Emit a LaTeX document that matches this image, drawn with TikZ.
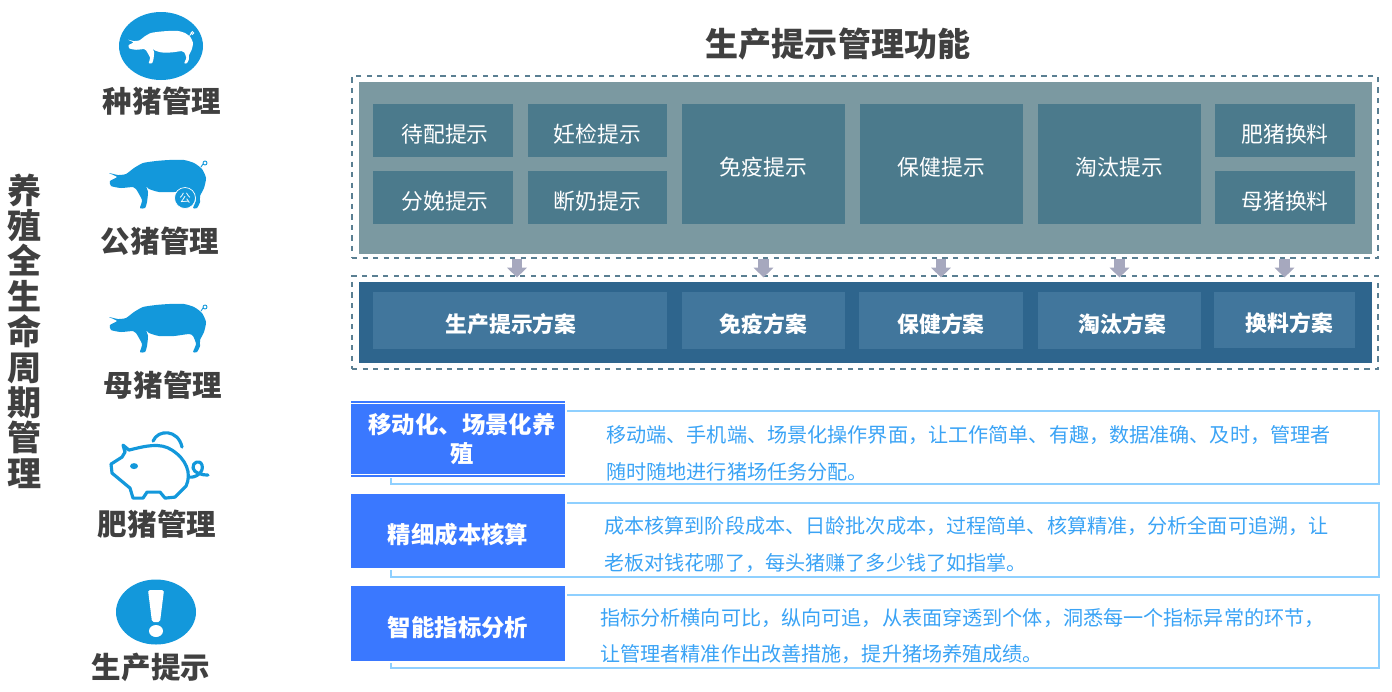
\documentclass[tikz,border=0pt]{standalone}
\usepackage{fontspec}
\setmainfont{Noto Sans CJK SC}
\usetikzlibrary{arrows.meta}

\newcommand{\zhcomma}{\char"FF0C\relax}

\definecolor{iconblue}{HTML}{1398DB}
\definecolor{labelgray}{HTML}{404040}
\definecolor{fnback}{HTML}{7B99A1}
\definecolor{fncell}{HTML}{4B7A8C}
\definecolor{solback}{HTML}{2E658D}
\definecolor{solcell}{HTML}{41769C}
\definecolor{dashline}{HTML}{5A7F92}
\definecolor{arrowgray}{HTML}{A6A8BE}
\definecolor{headblue}{HTML}{3A78FF}
\definecolor{rowline}{HTML}{8FD0FF}
\definecolor{rowtext}{HTML}{3AA3F5}

\tikzset{
	outerbox/.style={draw=dashline, dashed, line width=0.7pt, inner sep=0pt},
	fncellbox/.style={fill=fncell, text=white, inner sep=0pt,
					  text height=15pt, text depth=1.5pt,
					  font=\fontsize{12.4pt}{15pt}\selectfont},
	solcellbox/.style={fill=solcell, text=white, inner sep=0pt,
					   text height=15pt, text depth=1.5pt,
					   font=\fontsize{12.4pt}{15pt}\selectfont\bfseries},
	headbox/.style={fill=headblue, draw=white, line width=1pt, text=white,
					inner sep=0pt, align=center,
					font=\fontsize{13.3pt}{16.5pt}\selectfont\bfseries},
	headlow/.style={text height=16pt, text depth=1.5pt},
	rowbox/.style={draw=rowline, line width=0.6pt, inner sep=0pt},
	rowtextnode/.style={anchor=west, text=rowtext, inner sep=0pt, align=left,
						font=\fontsize{11.45pt}{20.9pt}\selectfont},
	iconlabel/.style={text=labelgray, inner sep=0pt,
					  font=\fontsize{16.8pt}{20pt}\selectfont\bfseries},
	flowarrow/.style={draw=arrowgray, line width=6.2pt,
					  -{Triangle[length=5.5pt,width=11pt]}},
	pics/pigbody/.style={code={
		\begin{scope}[x=0.02cm, y=-0.02cm]
			\fill[#1] plot[smooth cycle, tension=0.35] coordinates {
				(0,13) (9,15) (17,14) (25,8) (34,3) (47,1) (60,0) (75,0) (85,3)
				(93,9) (97,18) (95,28) (91,36) (91,42) (88,48) (84,48) (87,40)
				(84,32) (80,30) (65,32) (50,32) (40,29) (37,26) (39,32) (38,42)
				(36,48) (31,48) (33,40) (27,29) (24,27) (12,28) (2,26) (1,21) (8,17)};
			\draw[#1, line width=0.5pt] (92,7) -- (94,4) (96,3) circle (2);
		\end{scope}
	}}
}

\begin{document}
\begin{tikzpicture}
	\useasboundingbox (0,0) rectangle (27.84,-13.82);

	% left column
	\draw (0.5,-6.62) node[text=labelgray, inner sep=0pt, align=center,
						   font=\fontsize{19.4pt}{20.15pt}\selectfont\bfseries](lifecycle)
		{养\\殖\\全\\生\\命\\周\\期\\管\\理};

	\fill[iconblue] (3.22,-0.92) ellipse (0.84 and 0.68);
	\pic[scale=0.67] at (2.56,-0.62) {pigbody={white}};
	\draw (3.24,-2.02) node[iconlabel](breedlabel){种猪管理};

	\pic at (2.18,-3.2) {pigbody={iconblue}};
	\fill[iconblue, draw=white, line width=0.4pt] (3.70,-3.96) circle (0.21);
	\draw (3.70,-3.96) node[text=white, inner sep=0pt,
							font=\fontsize{6.5pt}{7pt}\selectfont](boarmark){公};
	\draw (3.20,-4.82) node[iconlabel](boarlabel){公猪管理};

	\pic at (2.18,-6.08) {pigbody={iconblue}};
	\draw (3.26,-7.70) node[iconlabel](sowlabel){母猪管理};

	\begin{scope}[x=0.02cm, y=-0.02cm, draw=iconblue, line width=1.8pt,
				  line join=round, line cap=round]
		\draw (123,445) -- (129,450) .. controls (145,446) and (160,442) .. (172,450)
			.. controls (186,459) and (192,473) .. (186,486) -- (175,497) -- (165,498)
			-- (160,492) -- (147,492) -- (143,498) -- (133,498) -- (130,488)
			-- (112,473) -- (111,464) -- (122,457) -- (125,452) -- cycle;
		\draw (153,441) .. controls (158,429) and (178,429) .. (182,447);
		\draw (189,477) .. controls (196,478) and (204,472) .. (202,465)
			.. controls (200,459) and (192,462) .. (193,468)
			.. controls (194,473) and (202,475) .. (208,475);
		\fill[iconblue] (134,466) ellipse (4 and 3);
	\end{scope}
	\draw (3.14,-10.48) node[iconlabel](fatlabel){肥猪管理};

	\fill[iconblue] (3.12,-12.24) ellipse (0.80 and 0.65);
	\fill[white, rounded corners=1pt] (2.96,-11.80) -- (3.28,-11.80) -- (3.20,-12.44)
		-- (3.04,-12.44) -- cycle;
	\fill[white] (3.12,-12.62) ellipse (0.14 and 0.12);
	\draw (3.02,-13.34) node[iconlabel](hintlabel){生产提示};

	% title
	\draw (16.76,-0.88) node[text=labelgray, inner sep=0pt,
							 font=\fontsize{18.8pt}{22pt}\selectfont\bfseries](title){生产提示管理功能};

	% function block
	\draw (17.30,-3.34) node[outerbox, minimum width=20.52cm, minimum height=3.64cm](outerfn){};
	\draw (17.31,-3.36) node[fill=fnback, inner sep=0pt, minimum width=20.26cm, minimum height=3.44cm](innerfn){};
	\draw (8.86,-2.61) node[fncellbox, minimum width=2.8cm, minimum height=1.06cm](daipei){\hspace*{0.08cm}待配提示};
	\draw (11.95,-2.61) node[fncellbox, minimum width=2.78cm, minimum height=1.06cm](renjian){妊检提示};
	\draw (8.86,-3.95) node[fncellbox, minimum width=2.8cm, minimum height=1.06cm](fenmian){\hspace*{0.08cm}分娩提示};
	\draw (11.95,-3.95) node[fncellbox, minimum width=2.78cm, minimum height=1.06cm](duannai){断奶提示};
	\draw (15.27,-3.28) node[fncellbox, minimum width=3.26cm, minimum height=2.4cm](mianyi){免疫提示};
	\draw (18.83,-3.28) node[fncellbox, minimum width=3.26cm, minimum height=2.4cm](baojian){保健提示};
	\draw (22.39,-3.28) node[fncellbox, minimum width=3.26cm, minimum height=2.4cm](taotai){淘汰提示};
	\draw (25.70,-2.61) node[fncellbox, minimum width=2.8cm, minimum height=1.06cm](feizhu){肥猪换料};
	\draw (25.70,-3.95) node[fncellbox, minimum width=2.8cm, minimum height=1.06cm](muzhu){母猪换料};

	% solution block
	\draw (17.30,-6.45) node[outerbox, minimum width=20.52cm, minimum height=1.86cm](outersol){};
	\draw (17.31,-6.45) node[fill=solback, inner sep=0pt, minimum width=20.26cm, minimum height=1.62cm](innersol){};
	\draw (10.40,-6.41) node[solcellbox, minimum width=5.88cm, minimum height=1.14cm](solprod){生产提示方案\hspace*{0.36cm}};
	\draw (15.27,-6.41) node[solcellbox, minimum width=3.26cm, minimum height=1.14cm](solimm){免疫方案};
	\draw (18.82,-6.41) node[solcellbox, minimum width=3.28cm, minimum height=1.14cm](solhealth){保健方案};
	\draw (22.39,-6.41) node[solcellbox, minimum width=3.26cm, minimum height=1.14cm](solcull){\hspace*{0.12cm}淘汰方案};
	\draw (25.69,-6.40) node[solcellbox, minimum width=2.82cm, minimum height=1.12cm](solfeed){\hspace*{0.2cm}换料方案};

	\coordinate (prodarrow) at (10.34,-6.41);
	\foreach \target in {prodarrow, solimm, solhealth, solcull, solfeed}
		\draw [flowarrow](outerfn.south -| \target) -- ([yshift=-0.04cm]outersol.north -| \target);

	% feature rows
	\draw (17.70,-8.95) node[rowbox, minimum width=19.76cm, minimum height=1.46cm](rowmobile){};
	\draw (17.70,-10.80) node[rowbox, minimum width=19.76cm, minimum height=1.48cm](rowcost){};
	\draw (17.70,-12.63) node[rowbox, minimum width=19.76cm, minimum height=1.46cm](rowindex){};

	\draw (9.16,-8.78) node[headbox, minimum width=4.32cm, minimum height=1.54cm](headmobile)
		{\hspace*{0.16cm}移动化、场景化养\\\hspace*{0.16cm}殖};
	\draw[white, line width=0.6pt] ([yshift=-0.07cm]headmobile.north west) -- ([yshift=-0.07cm]headmobile.north east);
	\draw[white, line width=0.6pt] ([yshift=0.07cm]headmobile.south west) -- ([yshift=0.07cm]headmobile.south east);
	\draw (9.16,-10.62) node[headbox, headlow, minimum width=4.32cm, minimum height=1.52cm](headcost){精细成本核算};
	\draw (9.16,-12.47) node[headbox, headlow, minimum width=4.32cm, minimum height=1.54cm](headindex){智能指标分析};

	\draw (12.12,-9.07) node[rowtextnode](textmobile)
		{移动端、手机端、场景化操作界面\zhcomma 让工作简单、有趣\zhcomma 数据准确、及时\zhcomma 管理者\\随时随地进行猪场任务分配。};
	\draw (12.08,-10.89) node[rowtextnode](textcost)
		{成本核算到阶段成本、日龄批次成本\zhcomma 过程简单、核算精准\zhcomma 分析全面可追溯\zhcomma 让\\老板对钱花哪了\zhcomma 每头猪赚了多少钱了如指掌。};
	\draw (12.00,-12.72) node[rowtextnode](textindex)
		{指标分析横向可比\zhcomma 纵向可追\zhcomma 从表面穿透到个体\zhcomma 洞悉每一个指标异常的环节\zhcomma \\让管理者精准作出改善措施\zhcomma 提升猪场养殖成绩。};
\end{tikzpicture}
\end{document}
